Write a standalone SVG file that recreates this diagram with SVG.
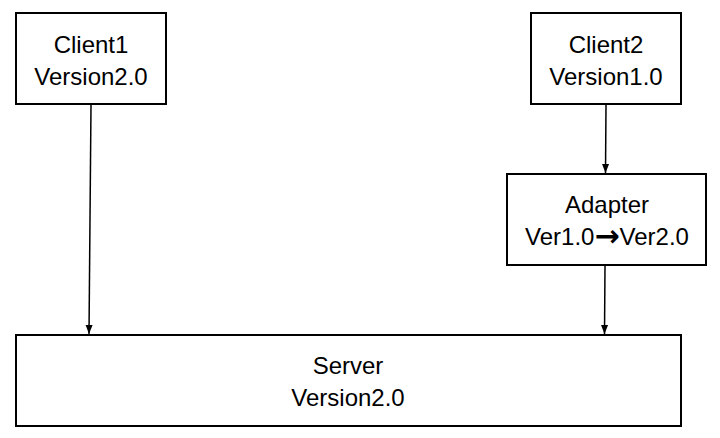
<svg xmlns="http://www.w3.org/2000/svg" width="720" height="438" viewBox="0 0 720 438">
<style>
.box{fill:#fff;stroke:#000;stroke-width:2}
.t{font-family:"Liberation Sans",Arial,sans-serif;font-size:24px;fill:#000;text-anchor:middle}
.arr{font-family:"DejaVu Sans",sans-serif;font-weight:bold;font-size:30px}
.c{stroke:#000;stroke-width:1.5;fill:none;marker-end:url(#ah)}
</style>
<defs>
<marker id="ah" markerWidth="8" markerHeight="9" refX="9" refY="4" orient="auto" markerUnits="userSpaceOnUse">
<path d="M0,0.5 L9,4 L0,7.5 Z" fill="#000"/>
</marker>
</defs>
<rect width="720" height="438" fill="#fff"/>
<g id="client1">
<rect class="box" x="16" y="13" width="150" height="91"/>
<text class="t" x="91" y="53">Client1</text>
<text class="t" x="91" y="85">Version2.0</text>
</g>
<g id="client2">
<rect class="box" x="531" y="13" width="150" height="91"/>
<text class="t" x="606" y="53">Client2</text>
<text class="t" x="606" y="85">Version1.0</text>
</g>
<g id="adapter">
<rect class="box" x="507" y="174" width="199" height="91"/>
<text class="t" x="607" y="213">Adapter</text>
<text class="t" x="607" y="245">Ver1.0<tspan class="arr" dy="1">→</tspan><tspan dy="-1">Ver2.0</tspan></text>
</g>
<g id="server">
<rect class="box" x="16" y="335" width="665" height="91"/>
<text class="t" x="348" y="374">Server</text>
<text class="t" x="348" y="406">Version2.0</text>
</g>
<g id="connectors">
<line class="c" x1="91" y1="105" x2="89" y2="334"/>
<line class="c" x1="606" y1="105" x2="605.5" y2="173"/>
<line class="c" x1="605" y1="266" x2="604.5" y2="334"/>
</g>
</svg>
